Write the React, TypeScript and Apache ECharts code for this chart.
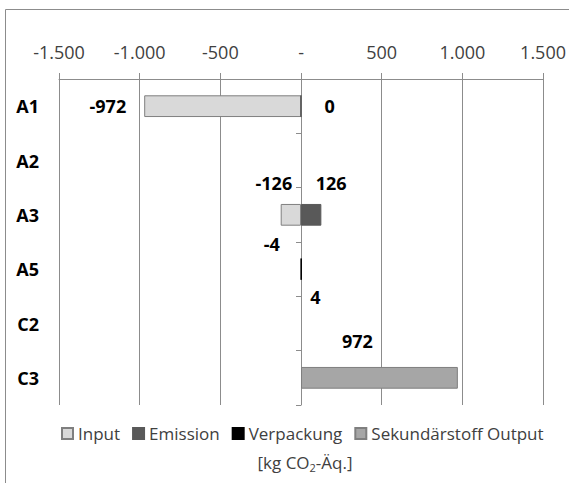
import React, { useEffect, useRef } from "react";
import * as echarts from "echarts";

const categories = ["A1", "A2", "A3", "A5", "C2", "C3"];
const inputValues = [-972, null, -126, -4, null, null];
const emissionValues = [0, null, 126, null, null, null];
const verpackungValues = [null, null, null, 4, null, null];
const outputValues = [null, null, null, null, null, 972];
const xTicks = { min: -1500, max: 1500, interval: 500 };

// label placement per point: [position, offsetX, offsetY]
const inputLabels: any = { 0: ["left", -13, 0], 2: ["top", -17, -7], 3: ["top", -29, 0] };
const emissionLabels: any = { 0: ["right", 18, 0], 2: ["top", 20, -7] };
const verpackungLabels: any = { 3: ["bottom", 14, 3] };
const outputLabels: any = { 5: ["top", -22, -12] };

const FONT = "'Open Sans', sans-serif";

function fmt(v: number) {
  if (v === 0) return "-";
  const s = Math.abs(v).toString().replace(/\B(?=(\d{3})+(?!\d))/g, ".");
  return (v < 0 ? "-" : "") + s;
}

function mk(values: (number | null)[], labels: any) {
  return values.map((v, i) => {
    if (v === null) return null;
    const l = labels[i];
    return {
      value: v,
      label: l
        ? { show: true, position: l[0], offset: [l[1], l[2]] }
        : { show: false },
    };
  });
}

export default function App() {
  const ref = useRef<HTMLDivElement>(null);
  useEffect(() => {
    const chart = echarts.init(ref.current!, null, { renderer: "svg" });
    const labelBase = {
      show: true,
      fontFamily: FONT,
      fontSize: 18,
      fontWeight: "bold",
      color: "#000",
      formatter: (p: any) => String(p.value),
    };
    const barBase = {
      type: "bar",
      barWidth: "40%",
      barGap: "-100%",
      yAxisIndex: 0,
      label: labelBase,
    };
    chart.setOption({
      animation: false,
      textStyle: { fontFamily: FONT },
      grid: { left: 59, right: 22, top: 79, bottom: 78, containLabel: false },
      xAxis: {
        type: "value",
        position: "top",
        min: xTicks.min,
        max: xTicks.max,
        interval: xTicks.interval,
        axisLine: { show: true, lineStyle: { color: "#8c8c8c" } },
        axisTick: { show: true, length: 6, lineStyle: { color: "#8c8c8c" } },
        splitLine: { show: true, lineStyle: { color: "#8c8c8c" } },
        axisLabel: {
          formatter: fmt,
          fontFamily: FONT,
          fontSize: 18,
          color: "#404040",
          margin: 18,
        },
      },
      yAxis: [
        {
          type: "category",
          data: categories,
          inverse: true,
          position: "left",
          axisLine: { show: false, onZero: false },
          axisTick: { show: false },
          axisLabel: {
            fontFamily: FONT,
            fontSize: 18,
            fontWeight: "bold",
            color: "#000",
            margin: 20,
          },
        },
        {
          type: "category",
          data: categories,
          inverse: true,
          position: "left",
          axisLine: { show: true, onZero: true, lineStyle: { color: "#8c8c8c" } },
          axisTick: { show: true, length: 5, lineStyle: { color: "#8c8c8c" } },
          axisLabel: { show: false },
        },
      ],
      legend: {
        left: 56,
        top: 420,
        itemWidth: 11,
        itemHeight: 11,
        itemGap: 12,
        icon: "rect",
        textStyle: { fontFamily: FONT, fontSize: 17, color: "#404040" },
        data: ["Input", "Emission", "Verpackung", "Sekundärstoff Output"],
      },
      title: {
        text: "[kg CO{sub|2}-Äq.]",
        left: 300,
        top: 447,
        textAlign: "center",
        textStyle: {
          fontFamily: FONT,
          fontSize: 17,
          fontWeight: "normal",
          color: "#404040",
          rich: {
            sub: { fontFamily: FONT, fontSize: 11, color: "#404040", verticalAlign: "bottom", padding: [10, 0, 0, 0] },
          },
        },
      },
      graphic: [
        {
          type: "rect",
          shape: { x: 5.5, y: 9.5, width: 620, height: 520 },
          style: { fill: "none", stroke: "#8c8c8c", lineWidth: 1 },
          silent: true,
        },
      ],
      series: [
        {
          ...barBase,
          name: "Input",
          data: mk(inputValues, inputLabels),
          itemStyle: { color: "#d9d9d9", borderColor: "#7f7f7f", borderWidth: 1 },
        },
        {
          ...barBase,
          name: "Emission",
          data: mk(emissionValues, emissionLabels),
          itemStyle: { color: "#595959", borderColor: "#595959", borderWidth: 1 },
        },
        {
          ...barBase,
          name: "Verpackung",
          data: mk(verpackungValues, verpackungLabels),
          itemStyle: { color: "#000000", borderColor: "#000", borderWidth: 1 },
        },
        {
          ...barBase,
          name: "Sekundärstoff Output",
          data: mk(outputValues, outputLabels),
          itemStyle: { color: "#a6a6a6", borderColor: "#7f7f7f", borderWidth: 1 },
        },
      ],
    });
    return () => chart.dispose();
  }, []);
  return (
    <div
      ref={ref}
      style={{ position: "fixed", left: 0, top: 0, width: 569, height: 483, background: "#fff" }}
    />
  );
}
